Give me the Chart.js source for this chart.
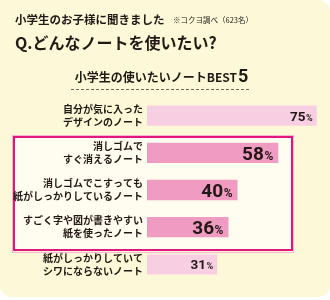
<!DOCTYPE html>
<html><head><meta charset="utf-8">
<script src="https://cdn.jsdelivr.net/npm/chart.js@4"></script>
<style>html,body{margin:0;padding:0;background:#fff}#wrap{width:330px;height:300px;position:relative}</style>
</head><body><div id="wrap"><canvas id="c" width="330" height="300"></canvas></div>
<script>
const categories = [
  ["自分が気に入った","デザインのノート"],
  ["消しゴムで","すぐ消えるノート"],
  ["消しゴムでこすっても","紙がしっかりしているノート"],
  ["すごく字や図が書きやすい","紙を使ったノート"],
  ["紙がしっかりしていて","シワにならないノート"]
];
const values = [75, 58, 40, 36, 31];
const highlighted = [false, true, true, true, false];
const titleText = "小学生のお子様に聞きました";
const noteText = "※コクヨ調べ（623名）";
const questionText = "Q.どんなノートを使いたい?";
const subtitleText = "小学生の使いたいノートBEST";
const subtitleNum = "5";

const JP = "'Noto Sans CJK JP', sans-serif";
const NUM = "Roboto, 'Noto Sans', sans-serif";
const TXT = "#231815";

function rr(ctx,x,y,w,h,r){ctx.beginPath();ctx.moveTo(x+r[0],y);ctx.lineTo(x+w-r[1],y);ctx.arcTo(x+w,y,x+w,y+r[1],r[1]);ctx.lineTo(x+w,y+h-r[2]);ctx.arcTo(x+w,y+h,x+w-r[2],y+h,r[2]);ctx.lineTo(x+r[3],y+h);ctx.arcTo(x,y+h,x,y+h-r[3],r[3]);ctx.lineTo(x,y+r[0]);ctx.arcTo(x,y,x+r[0],y,r[0]);ctx.closePath();}

const deco = {
  id:'deco',
  beforeDraw(chart){
    const ctx = chart.ctx;
    ctx.save();
    ctx.fillStyle = "#fdf8d8";
    rr(ctx,0,0,330,297,[0,12,12,12]); ctx.fill();
    // highlight box
    ctx.fillStyle = "#fffdf0";
    ctx.fillRect(14,137,278,113);
    ctx.strokeStyle = "#f7b6d2"; ctx.lineWidth = 1;
    ctx.strokeRect(12.5,135.5,281,117);
    ctx.strokeStyle = "#e5157f"; ctx.lineWidth = 2;
    ctx.strokeRect(14,137,278,113);
    // titles
    ctx.fillStyle = TXT; ctx.textBaseline = "middle"; ctx.textAlign = "left";
    ctx.font = "bold 11.5px " + JP;
    ctx.fillText(titleText, 15, 20);
    ctx.font = "7.5px " + JP;
    ctx.fillText(noteText, 173, 20);
    ctx.font = "bold 16px " + JP;
    ctx.fillText(questionText, 15, 43);
    // subtitle
    ctx.font = "bold 12px " + JP;
    const w1 = ctx.measureText(subtitleText).width;
    ctx.font = "bold 18px " + NUM;
    const w2 = ctx.measureText(subtitleNum).width;
    const sx = 161 - (w1+w2)/2;
    ctx.font = "bold 12px " + JP;
    ctx.fillText(subtitleText, sx, 77);
    ctx.font = "bold 18px " + NUM;
    ctx.textBaseline = "alphabetic";
    ctx.fillText(subtitleNum, sx + w1 + 1, 82);
    ctx.strokeStyle = "#6b6b6b"; ctx.lineWidth = 1; ctx.setLineDash([3,2]);
    ctx.beginPath(); ctx.moveTo(71, 89.5); ctx.lineTo(251, 89.5); ctx.stroke();
    ctx.restore();
  },
  afterDatasetsDraw(chart){
    const ctx = chart.ctx;
    const meta = chart.getDatasetMeta(0);
    ctx.save();
    ctx.fillStyle = TXT; ctx.textBaseline = "alphabetic"; ctx.textAlign = "left";
    meta.data.forEach((bar,i)=>{
      const big = highlighted[i];
      const nf = big ? "bold 19px " + NUM : "bold 13.5px " + NUM;
      const pf = big ? "bold 12px " + NUM : "bold 9px " + NUM;
      const num = String(values[i]);
      ctx.font = nf; const nw = ctx.measureText(num).width;
      ctx.font = pf; const pw = ctx.measureText("%").width;
      const end = bar.x - (big ? 5 : 4);
      const base = bar.y + (big ? 7 : 5);
      ctx.font = nf; ctx.fillText(num, end - pw - nw - 0.5, base);
      ctx.font = pf; ctx.fillText("%", end - pw, base);
    });
    ctx.restore();
  }
};

new Chart(document.getElementById('c'), {
  type:'bar',
  data:{labels:categories, datasets:[{
    data:values,
    backgroundColor: highlighted.map(h=>h?"#f09bc1":"#f8cfe2"),
    borderWidth:0, barPercentage:0.545, categoryPercentage:1
  }]},
  options:{
    indexAxis:'y', responsive:false, animation:false,
    layout:{padding:{top:97,bottom:10,left:0,right:11}},
    plugins:{legend:{display:false},tooltip:{enabled:false}},
    scales:{
      x:{display:false,min:0,max:76},
      y:{
        afterFit(s){s.width=147;},
        grid:{display:false,drawTicks:false}, border:{display:false},
        ticks:{color:TXT,padding:4,font:{family:JP,size:10,weight:'bold',lineHeight:1.3}}
      }
    }
  },
  plugins:[deco]
});
</script></body></html>
